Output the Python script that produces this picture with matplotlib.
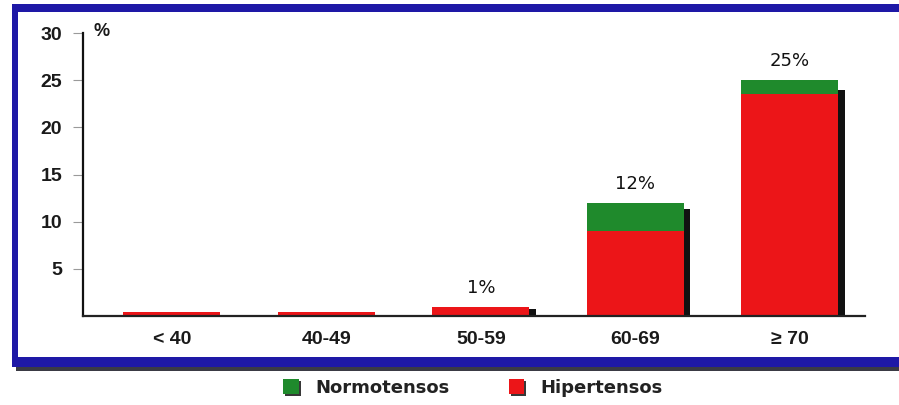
import matplotlib
matplotlib.use("Agg")
import matplotlib.pyplot as plt
from matplotlib.patches import Rectangle, Patch
from matplotlib import patheffects as pe

# Prevalence by age group (%)
categories = ["< 40", "40-49", "50-59", "60-69", "\u2265 70"]
hipertensos = [0.4, 0.4, 1.0, 9.0, 23.5]
normotensos = [0.0, 0.0, 0.0, 3.0, 1.5]
value_labels = ["", "", "1%", "12%", "25%"]
yticks = [5, 10, 15, 20, 25, 30]

RED = "#ec1518"
GREEN = "#1f8a2c"
BLUE = "#1e18a6"

W, H = 899, 405
fig = plt.figure(figsize=(W / 100, H / 100), dpi=100)
fig.patch.set_facecolor("white")


def fx(px):
    return px / W


def fy(py):
    return 1 - py / H


ax = fig.add_axes([fx(83), fy(316), fx(865) - fx(83), fy(33) - fy(316)])
ax.set_facecolor("none")

x = list(range(len(categories)))
totals = [h + n for h, n in zip(hipertensos, normotensos)]
width = 0.63

# drop shadows behind each stacked bar
shadow_h = [t * 0.97 - 0.25 for t in totals]
ax.bar([i + 0.04 for i in x], shadow_h, width=width, color="#111111",
       zorder=1, linewidth=0)
ax.bar(x, hipertensos, width=width, color=RED, zorder=2, linewidth=0)
ax.bar(x, normotensos, bottom=hipertensos, width=width, color=GREEN,
       zorder=2, linewidth=0)

for i, (t, lab) in enumerate(zip(totals, value_labels)):
    if lab:
        ax.annotate(lab, (i, t), xytext=(0, 7), textcoords="offset points",
                    ha="center", va="bottom", fontsize=13,
                    family="DejaVu Sans", color="#111111")

ax.set_xlim(-0.575, 4.487)
ax.set_ylim(0, 30)
ax.set_yticks(yticks)
ax.set_yticklabels([str(v) for v in yticks], fontsize=14, fontweight="bold",
                   family="Liberation Sans", color="#1a1a1a")
ax.tick_params(axis="y", length=7, width=0.8, color="#9a9a9a", pad=8)
ax.set_xticks(x)
ax.set_xticklabels(categories, fontsize=14, fontweight="bold",
                   family="Liberation Sans", color="#1a1a1a")
ax.tick_params(axis="x", length=0, pad=11)

for s in ("top", "right"):
    ax.spines[s].set_visible(False)
ax.spines["left"].set_linewidth(1.6)
ax.spines["left"].set_color("#111111")
ax.spines["bottom"].set_linewidth(1.6)
ax.spines["bottom"].set_color("#222222")

fig.text(fx(94), fy(31), "%", fontsize=13, fontweight="bold",
         family="Liberation Sans", color="#1a1a1a", ha="left", va="center")

# blue frame open on the right, with a dark shadow under the bottom edge
frame = [
    (16, 367, W - 16, 4, "#3a3a44"),   # shadow
    (12, 4, W - 12, 8, BLUE),          # top
    (12, 4, 6, 363, BLUE),             # left
    (12, 357, W - 12, 10, BLUE),       # bottom
]
for left, top, w, h, c in frame:
    fig.add_artist(Rectangle((fx(left), fy(top + h)), w / W, h / H,
                             transform=fig.transFigure, facecolor=c,
                             edgecolor="none", zorder=5))

shadow = [pe.SimplePatchShadow(offset=(1.5, -1.5), shadow_rgbFace="#222222",
                               alpha=0.9), pe.Normal()]
handles = [Patch(facecolor=GREEN, edgecolor="none", label="Normotensos",
                 path_effects=shadow),
           Patch(facecolor=RED, edgecolor="none", label="Hipertensos",
                 path_effects=shadow)]
fig.legend(handles=handles, loc="center", bbox_to_anchor=(fx(473), fy(388)),
           ncol=2, frameon=False,
           prop={"family": "DejaVu Sans", "weight": "bold", "size": 13},
           handlelength=0.85, handleheight=0.9, handletextpad=0.9,
           columnspacing=3.3, labelcolor="#222222")

fig.savefig("out.png", dpi=100, facecolor="white")
